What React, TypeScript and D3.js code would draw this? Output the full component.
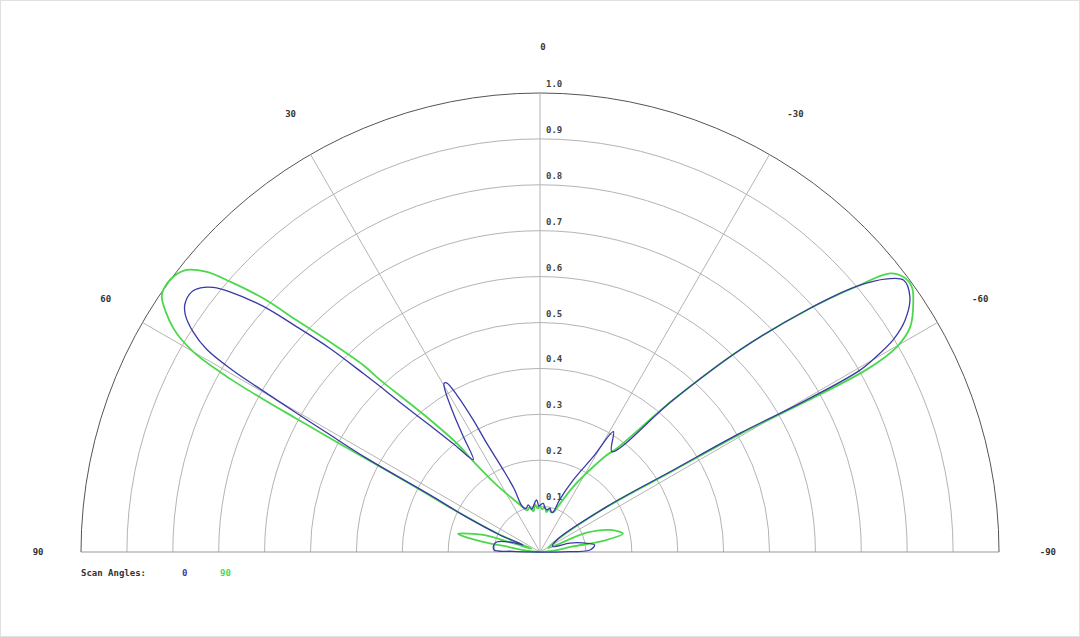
import { useEffect, useRef } from 'react';
import * as d3 from 'd3';

const WIDTH = 1080;
const HEIGHT = 637;

const RING_TICKS = [0.1, 0.2, 0.3, 0.4, 0.5, 0.6, 0.7, 0.8, 0.9, 1.0];
const SPOKE_ANGLES = [90, 60, 30, 0, -30, -60, -90];

const SCAN_LABELS = ['0', '90'];
const SCAN_COLORS = ['#3a3aa6', '#4cd84c'];

// scan angle 0 (blue), pattern angle in degrees (positive = left) and normalised gain
const SCAN0_ANGLE = [
  90, 88.5, 87.5, 82, 77, 71, 67.6, 67, 64.5, 62.7, 61.6, 60.8, 60.3, 59.8, 59.4, 58.7,
  57.6, 56.2, 55.0, 53.2, 52.1, 51.0, 50.0, 48.4, 47.2, 45.9, 44.7, 44.0, 43.1, 41.0,
  38.5, 35.9, 33.6, 32.0, 30.4, 29.6, 28.9, 27.9, 26.8, 26.1, 24.1, 22.3, 21.0, 17.5,
  14.0, 11.0, 8.4, 5.5, 3.6, 1.5, 0, -3.9, -6.5, -9.1, -12.9, -16, -18.3, -20.5, -24.8,
  -29.2, -31.4, -35.6, -41.2, -44.7, -47.8, -50.0, -51.8, -53.2, -55.4, -57.6, -59.0,
  -59.8, -60.4, -60.3, -59.3, -58.4, -55.8, -54.3, -66, -73.3, -78, -82.7, -87.7, -89.5, -90,
];
const SCAN0_GAIN = [
  0, 0.06, 0.1, 0.102, 0.097, 0.065, 0.04, 0.095, 0.18, 0.262, 0.43, 0.53, 0.61, 0.70, 0.78, 0.85,
  0.895, 0.93, 0.944, 0.947, 0.937, 0.916, 0.882, 0.806, 0.722, 0.637, 0.547, 0.501, 0.447, 0.365,
  0.298, 0.248, 0.302, 0.356, 0.409, 0.423, 0.421, 0.387, 0.322, 0.264, 0.196, 0.15, 0.105, 0.1,
  0.106, 0.095, 0.1, 0.11, 0.114, 0.1, 0.102, 0.106, 0.096, 0.093, 0.098, 0.09, 0.092, 0.12, 0.173,
  0.238, 0.307, 0.269, 0.44, 0.619, 0.785, 0.9, 0.962, 0.989, 0.979, 0.942, 0.898,
  0.85, 0.80, 0.669, 0.507, 0.341, 0.176, 0.045, 0.03, 0.068, 0.095, 0.12, 0.109, 0.05, 0,
];

// scan angle 90 (green)
const SCAN90_ANGLE = [
  90, 84, 80.5, 80, 77.5, 75.5, 73.3, 72, 69, 67.6, 66.5, 64, 62.5, 61.8, 61.5, 61.3, 61.1,
  60.8, 60.0, 58.6, 56.0, 55.1, 53.1, 51.4, 50.0, 48.9, 47.5, 46.4, 45.0, 43.4, 42.9, 40.5,
  37.5, 36.2, 33, 28, 21, 17, 13, 9, 6, 3, 0, -3, -6, -9, -12, -16, -19, -22, -27, -32,
  -34.5, -36.5, -41.2, -44.7, -47.8, -50.0, -51.5, -52.9, -54.5, -56.0, -58.7, -60.1, -60.8,
  -60.5, -59.5, -58.6, -56, -54.5, -64, -67.5, -72.5, -77.5, -80, -80.5, -84, -90,
];
const SCAN90_GAIN = [
  0, 0.03, 0.08, 0.126, 0.183, 0.16, 0.129, 0.06, 0.02, 0.04, 0.1, 0.2, 0.3, 0.43, 0.53, 0.607, 0.691,
  0.772, 0.872, 0.936, 0.994, 1.0, 0.999, 0.985, 0.95, 0.896, 0.818, 0.732, 0.647, 0.56, 0.512, 0.402,
  0.3, 0.24, 0.175, 0.135, 0.105, 0.095, 0.1, 0.09, 0.105, 0.095, 0.1, 0.093, 0.1, 0.088, 0.095, 0.09, 0.092, 0.11, 0.16, 0.219,
  0.256, 0.28, 0.44, 0.619, 0.785, 0.9, 0.975, 0.993, 0.995, 0.981, 0.944, 0.897, 0.82,
  0.669, 0.507, 0.341, 0.176, 0.045, 0.02, 0.11, 0.16, 0.185, 0.14, 0.07, 0.03, 0,
];

const FONT = '"DejaVu Sans Mono", monospace';

export default function App() {
  const svgRef = useRef<SVGSVGElement>(null);

  useEffect(() => {
    if (!svgRef.current) return;
    const svg = d3.select(svgRef.current);
    svg.selectAll('*').remove();

    const cx = 540;
    const cy = 552;
    const R = 459;

    const r = d3.scaleLinear().domain([0, 1]).range([0, R]);
    // degrees (positive to the left) -> d3 radial angle (clockwise from top)
    const a = d3.scaleLinear().domain([-90, 90]).range([Math.PI / 2, -Math.PI / 2]);

    svg.append('rect')
      .attr('x', 0.5).attr('y', 0.5)
      .attr('width', WIDTH - 1).attr('height', HEIGHT - 1)
      .attr('fill', '#fff').attr('stroke', '#e0e0e0');

    const g = svg.append('g').attr('transform', `translate(${cx},${cy})`);

    // rings
    RING_TICKS.forEach(t => {
      const p = d3.path();
      p.arc(0, 0, r(t), -Math.PI, 0);
      g.append('path')
        .attr('d', p.toString())
        .attr('fill', 'none')
        .attr('stroke', t === 1 ? '#555' : '#b4b4b4')
        .attr('stroke-width', 1);
    });

    // spokes
    SPOKE_ANGLES.filter(d => Math.abs(d) < 90).forEach(d => {
      g.append('line')
        .attr('x1', 0).attr('y1', 0)
        .attr('x2', R * Math.sin(a(d))).attr('y2', -R * Math.cos(a(d)))
        .attr('stroke', '#b4b4b4')
        .attr('stroke-width', 1);
    });
    g.append('line')
      .attr('x1', -R).attr('y1', 0).attr('x2', R).attr('y2', 0)
      .attr('stroke', '#999').attr('stroke-width', 1);

    // ring labels
    g.selectAll('.ring-label')
      .data(RING_TICKS)
      .enter()
      .append('text')
      .attr('class', 'ring-label')
      .attr('x', 6)
      .attr('y', d => -r(d) - 6)
      .attr('font-family', FONT)
      .attr('font-size', '9px')
      .attr('font-weight', 'bold')
      .attr('fill', '#444')
      .text(d => d.toFixed(1));

    // angle labels
    const labelR = r(1.1);
    g.selectAll('.angle-label')
      .data(SPOKE_ANGLES)
      .enter()
      .append('text')
      .attr('class', 'angle-label')
      .attr('x', d => labelR * Math.sin(a(d)) + 3)
      .attr('y', d => -labelR * Math.cos(a(d)))
      .attr('text-anchor', 'middle')
      .attr('dominant-baseline', 'middle')
      .attr('font-family', FONT)
      .attr('font-size', '9px')
      .attr('font-weight', 'bold')
      .attr('fill', '#333')
      .text(d => String(d));

    // patterns
    const series = [
      { angle: SCAN90_ANGLE, gain: SCAN90_GAIN, color: SCAN_COLORS[1], width: 1.8 },
      { angle: SCAN0_ANGLE, gain: SCAN0_GAIN, color: SCAN_COLORS[0], width: 1.3 },
    ];
    const line = d3.lineRadial<[number, number]>()
      .angle(d => a(d[0]))
      .radius(d => r(d[1]))
      .curve(d3.curveCatmullRom.alpha(0.5));

    series.forEach(s => {
      const pts = s.angle.map((d, i) => [d, s.gain[i]] as [number, number]);
      g.append('path')
        .attr('d', line(pts) as string)
        .attr('fill', 'none')
        .attr('stroke', s.color)
        .attr('stroke-width', s.width)
        .attr('stroke-linejoin', 'round');
    });

    // legend
    const legend = svg.append('g').attr('transform', 'translate(81,576)');
    legend.append('text')
      .attr('font-family', FONT).attr('font-size', '9px').attr('font-weight', 'bold')
      .attr('fill', '#333')
      .text('Scan Angles:');
    SCAN_LABELS.forEach((lab, i) => {
      legend.append('text')
        .attr('x', 101 + i * 38)
        .attr('font-family', FONT).attr('font-size', '9px').attr('font-weight', 'bold')
        .attr('fill', SCAN_COLORS[i])
        .text(lab);
    });
  }, []);

  return (
    <svg
      ref={svgRef}
      width={WIDTH}
      height={HEIGHT}
      style={{ position: 'absolute', left: 0, top: 0, background: '#fff' }}
    />
  );
}
